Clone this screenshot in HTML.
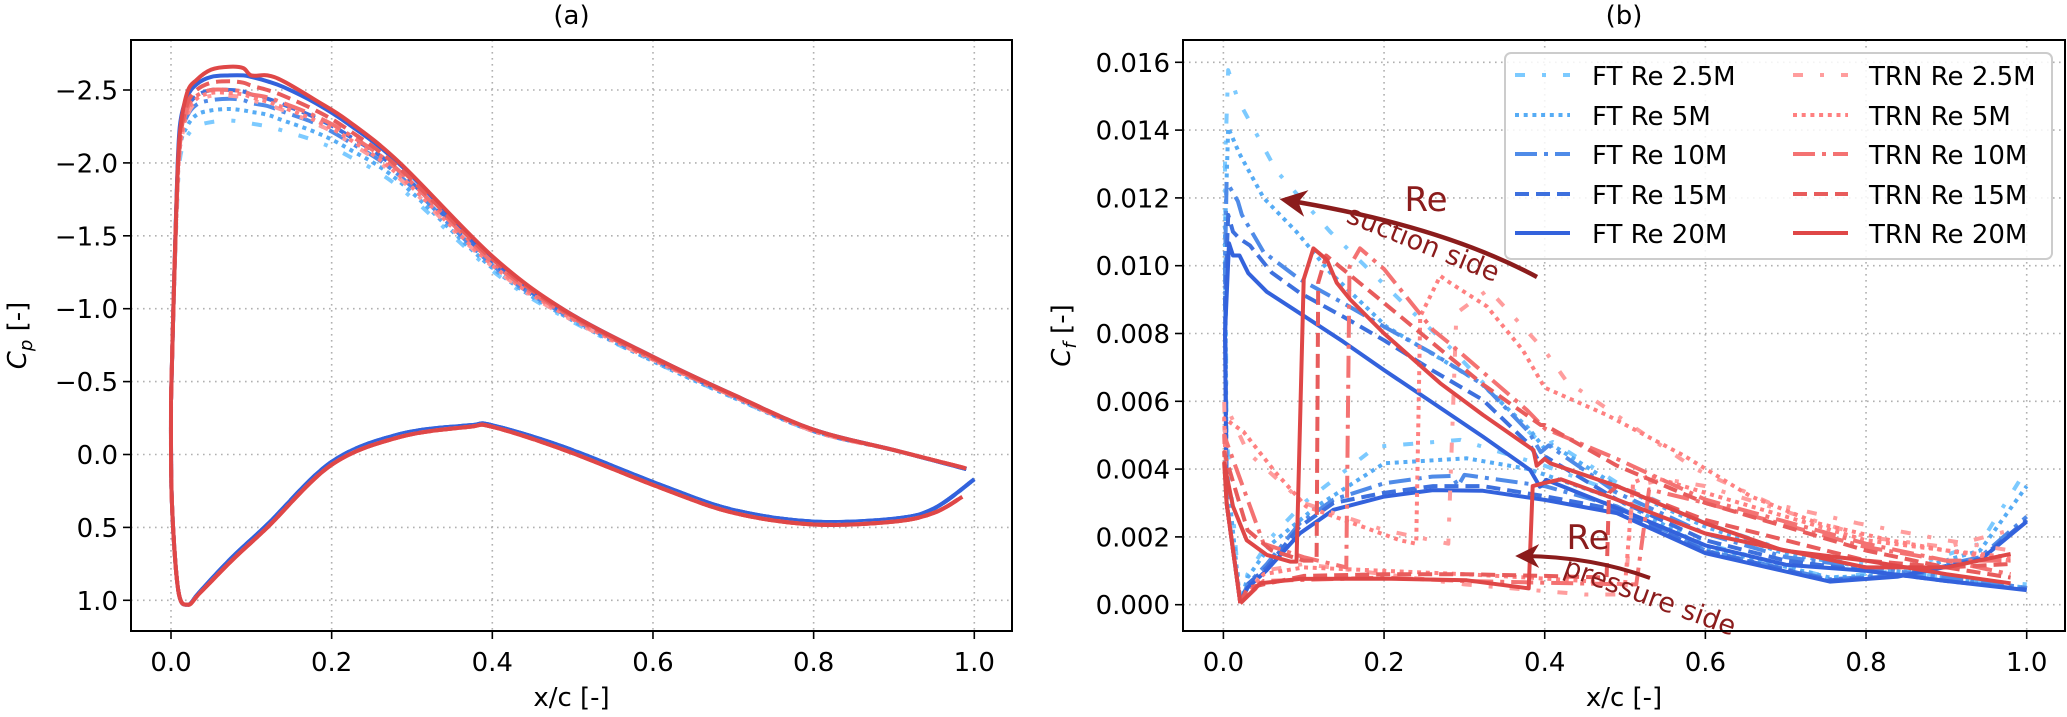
<!DOCTYPE html>
<html><head><meta charset="utf-8"><title>Cp and Cf distributions</title>
<style>
html,body{margin:0;padding:0;background:#fff;}
svg{display:block;font-family:"DejaVu Sans","Liberation Sans",sans-serif;}
</style></head>
<body>
<svg id="fig" width="2067" height="717" viewBox="0 0 2067 717" xmlns="http://www.w3.org/2000/svg">
<defs>
<clipPath id="clipA"><rect x="131" y="40" width="881" height="591"/></clipPath>
<clipPath id="clipB"><rect x="1183" y="40" width="882" height="591"/></clipPath>
<marker id="ah" viewBox="0 0 10 10" refX="8" refY="5" markerWidth="6" markerHeight="6" orient="auto-start-reverse"><path d="M0,0 L10,5 L0,10 L3,5 z" fill="#8b1c1c"/></marker>
</defs>
<g id="panelA"></g>
<g id="panelB"></g>
</svg>
<script>
// ---------- Panel (a): Cp data ----------
const cpUx = [0,0.003,0.007,0.011,0.02,0.032,0.05,0.073,0.09,0.1,0.12,0.14,0.18,0.22,0.285,0.4,0.49,0.6,0.7,0.8,0.9,0.99];
const cpU_FT25 = [-0.37,-1.0,-1.62,-2.02,-2.18,-2.25,-2.28,-2.29,-2.28,-2.27,-2.25,-2.22,-2.15,-2.05,-1.83,-1.26,-0.94,-0.64,-0.39,-0.16,-0.03,0.1];
const cpU_FT5 = [-0.37,-1.0,-1.68,-2.1,-2.25,-2.33,-2.36,-2.37,-2.36,-2.35,-2.33,-2.29,-2.21,-2.1,-1.87,-1.28,-0.95,-0.64,-0.39,-0.16,-0.03,0.1];
const cpU_FT10 = [-0.37,-1.0,-1.72,-2.15,-2.32,-2.4,-2.43,-2.44,-2.43,-2.41,-2.39,-2.35,-2.27,-2.15,-1.91,-1.3,-0.96,-0.65,-0.4,-0.16,-0.03,0.1];
const cpU_FT15 = [-0.37,-1.0,-1.75,-2.2,-2.38,-2.46,-2.5,-2.5,-2.49,-2.47,-2.44,-2.4,-2.31,-2.19,-1.94,-1.32,-0.97,-0.66,-0.4,-0.17,-0.03,0.1];
const cpU_FT20 = [-0.37,-1.0,-1.78,-2.25,-2.45,-2.54,-2.59,-2.6,-2.6,-2.59,-2.56,-2.52,-2.41,-2.27,-1.99,-1.35,-0.99,-0.67,-0.41,-0.17,-0.03,0.1];
const cpU_TRN25 = [-0.37,-1.0,-1.66,-2.08,-2.32,-2.42,-2.46,-2.46,-2.45,-2.43,-2.4,-2.36,-2.27,-2.15,-1.89,-1.29,-0.95,-0.65,-0.4,-0.16,-0.03,0.095];
const cpU_TRN5 = [-0.37,-1.0,-1.68,-2.1,-2.34,-2.44,-2.48,-2.48,-2.47,-2.45,-2.42,-2.38,-2.29,-2.17,-1.91,-1.3,-0.96,-0.65,-0.4,-0.16,-0.03,0.095];
const cpU_TRN10 = [-0.37,-1.0,-1.7,-2.12,-2.37,-2.46,-2.5,-2.5,-2.49,-2.47,-2.45,-2.41,-2.32,-2.2,-1.94,-1.32,-0.97,-0.66,-0.4,-0.17,-0.03,0.095];
const cpU_TRN15 = [-0.37,-1.0,-1.72,-2.15,-2.4,-2.5,-2.55,-2.56,-2.55,-2.53,-2.5,-2.46,-2.36,-2.23,-1.96,-1.34,-0.98,-0.66,-0.41,-0.17,-0.03,0.095];
const cpU_TRN20 = [-0.37,-1.0,-1.75,-2.2,-2.48,-2.57,-2.64,-2.66,-2.65,-2.6,-2.6,-2.56,-2.43,-2.29,-2.0,-1.36,-0.99,-0.67,-0.41,-0.17,-0.03,0.095];
const cpLxTRN = [0.0,0.001,0.009,0.021,0.036,0.077,0.12,0.2,0.285,0.372,0.4,0.49,0.61,0.7,0.8,0.9,0.95,0.985];
const cpL_TRN = [-0.37,0.31,0.93,1.03,0.95,0.72,0.5,0.07,-0.12,-0.19,-0.19,-0.03,0.23,0.4,0.48,0.46,0.4,0.29];
const cpLxFT = [0.0,0.001,0.009,0.021,0.036,0.077,0.12,0.2,0.285,0.372,0.4,0.49,0.61,0.7,0.8,0.9,0.95,1.0];
const cpL_FT = [-0.37,0.31,0.93,1.03,0.94,0.7,0.48,0.05,-0.14,-0.2,-0.2,-0.05,0.21,0.38,0.46,0.44,0.37,0.17];
const cpYTicks = [-2.5,-2.0,-1.5,-1.0,-0.5,0.0,0.5,1.0];
const cpYTickLabels = ["\u22122.5","\u22122.0","\u22121.5","\u22121.0","\u22120.5","0.0","0.5","1.0"];
const xTicks = [0,0.2,0.4,0.6,0.8,1.0];
const xTickLabels = ["0.0","0.2","0.4","0.6","0.8","1.0"];

// ---------- Panel (b): Cf data ----------
const cfYTicks = [0,0.002,0.004,0.006,0.008,0.010,0.012,0.014,0.016];
const cfYTickLabels = ["0.000","0.002","0.004","0.006","0.008","0.010","0.012","0.014","0.016"];
const ft25Sx = [0.021,0.004,0.002,0.006,0.018,0.066,0.133,0.228,0.286,0.38,0.4,0.41,0.49,0.6,0.7,0.8,0.9,1.0];
const ft25Sy = [0.00005,0.005,0.013,0.01577,0.0149,0.0128,0.011,0.0088,0.0075,0.0051,0.0047,0.0048,0.0036,0.0024,0.0016,0.0012,0.0008,0.0006];
const ft25Px = [0.021,0.03,0.06,0.1,0.19,0.295,0.4,0.49,0.6,0.755,0.84,0.942,1.0];
const ft25Py = [0.00004,0.0009,0.002,0.003,0.00466,0.00486,0.0041,0.0033,0.0018,0.0008,0.001,0.0018,0.004];
const ft5Sx = [0.021,0.004,0.002,0.006,0.02,0.05,0.091,0.133,0.203,0.26,0.32,0.38,0.4,0.41,0.49,0.6,0.7,0.8,0.9,1.0];
const ft5Sy = [0.00005,0.004,0.011,0.01407,0.0133,0.012,0.011,0.0098,0.0082,0.0074,0.00654,0.0052,0.0046,0.0047,0.0035,0.0023,0.0015,0.0011,0.0008,0.0005];
const ft5Px = [0.021,0.03,0.06,0.116,0.2,0.303,0.38,0.49,0.6,0.755,0.84,0.942,1.0];
const ft5Py = [0.00004,0.0008,0.0018,0.0029,0.00417,0.00432,0.004,0.0031,0.0017,0.0008,0.0009,0.0016,0.0035];
const ft10Sx = [0.021,0.004,0.002,0.004,0.018,0.023,0.05,0.095,0.149,0.2,0.261,0.323,0.38,0.395,0.405,0.49,0.6,0.7,0.8,0.9,1.0];
const ft10Sy = [0.00005,0.003,0.01,0.01248,0.0119,0.0115,0.0104,0.0096,0.0089,0.0082,0.0074,0.0065,0.0051,0.0045,0.0047,0.0033,0.0021,0.0014,0.0011,0.0008,0.0005];
const ft10Px = [0.021,0.03,0.054,0.095,0.137,0.2,0.26,0.285,0.292,0.3,0.4,0.49,0.6,0.755,0.84,0.942,1.0];
const ft10Py = [0.00004,0.0006,0.0012,0.0024,0.0031,0.00358,0.00378,0.0038,0.0035,0.00383,0.0035,0.0029,0.0016,0.00075,0.00088,0.0014,0.0026];
const ft15Sx = [0.021,0.004,0.002,0.006,0.012,0.02,0.033,0.06,0.095,0.149,0.2,0.261,0.323,0.382,0.394,0.402,0.49,0.6,0.7,0.8,0.9,1.0];
const ft15Sy = [0.00005,0.003,0.009,0.0115,0.011,0.0108,0.0106,0.0098,0.0092,0.0085,0.0078,0.0069,0.00604,0.0047,0.00417,0.00435,0.0031,0.0019,0.0013,0.001,0.0007,0.00045];
const ft15Px = [0.021,0.03,0.054,0.095,0.137,0.2,0.261,0.323,0.4,0.49,0.6,0.755,0.84,0.942,1.0];
const ft15Py = [0.00004,0.0006,0.0011,0.0023,0.003,0.0033,0.0035,0.0035,0.0032,0.0028,0.00158,0.00072,0.00085,0.00135,0.0025];
const ft20Sx = [0.021,0.004,0.002,0.007,0.012,0.02,0.031,0.054,0.095,0.149,0.2,0.261,0.323,0.382,0.394,0.402,0.49,0.6,0.7,0.8,0.9,1.0];
const ft20Sy = [0.00005,0.003,0.008,0.01066,0.0103,0.0103,0.00978,0.00923,0.0086,0.00776,0.00692,0.00595,0.00496,0.00397,0.00348,0.00368,0.00285,0.00175,0.00118,0.001,0.0007,0.00043];
const ft20Px = [0.021,0.03,0.054,0.095,0.137,0.2,0.261,0.323,0.4,0.49,0.6,0.755,0.84,0.942,1.0];
const ft20Py = [0.00004,0.0005,0.00102,0.0021,0.0028,0.00319,0.00338,0.00336,0.00309,0.0027,0.00152,0.00068,0.00083,0.00132,0.00245];
const trn25Sx = [0.021,0.004,0.001,0.03,0.1,0.2,0.28,0.29,0.33,0.4,0.427,0.588,0.68,0.79,0.9,0.98];
const trn25Sy = [0.00005,0.003,0.006,0.0045,0.003,0.0022,0.0018,0.0086,0.0093,0.0075,0.0066,0.004,0.003,0.0024,0.0019,0.0016];
const trn25Px = [0.021,0.05,0.1,0.3,0.45,0.5,0.51,0.55,0.6,0.8,0.9,0.98];
const trn25Py = [0.00004,0.001,0.0012,0.0006,0.0003,0.0003,0.0035,0.0037,0.0035,0.002,0.0017,0.0022];
const trn5Sx = [0.021,0.004,0.001,0.025,0.065,0.103,0.15,0.22,0.24,0.245,0.27,0.282,0.328,0.373,0.4,0.477,0.573,0.656,0.74,0.83,0.9,0.98];
const trn5Sy = [0.00005,0.003,0.0055,0.0051,0.0039,0.0029,0.0025,0.0019,0.0018,0.0085,0.0097,0.0095,0.0088,0.0075,0.0064,0.0056,0.0044,0.0032,0.0024,0.0019,0.0016,0.0013];
const trn5Px = [0.021,0.05,0.1,0.2,0.3,0.38,0.45,0.5,0.51,0.53,0.6,0.8,0.9,0.98];
const trn5Py = [0.00004,0.0009,0.0011,0.001,0.0009,0.0008,0.0007,0.0006,0.0036,0.0038,0.0033,0.0019,0.0016,0.0014];
const trn10Sx = [0.021,0.004,0.001,0.05,0.1,0.153,0.157,0.17,0.2,0.261,0.282,0.378,0.4,0.49,0.6,0.8,0.9,0.98];
const trn10Sy = [0.00005,0.003,0.005,0.0018,0.0014,0.0011,0.00997,0.01051,0.0099,0.0081,0.0077,0.00574,0.0052,0.0043,0.0031,0.0018,0.0013,0.0009];
const trn10Px = [0.021,0.05,0.2,0.3,0.5,0.514,0.53,0.6,0.8,0.9,0.98];
const trn10Py = [0.00004,0.0007,0.0008,0.0007,0.0006,0.0006,0.0034,0.003,0.0017,0.0013,0.0013];
const trn15Sx = [0.021,0.004,0.001,0.03,0.06,0.1,0.116,0.118,0.128,0.2,0.323,0.395,0.4,0.49,0.6,0.8,0.9,0.98];
const trn15Sy = [0.00005,0.003,0.0045,0.0022,0.0016,0.0013,0.0013,0.0095,0.0103,0.0089,0.0065,0.0053,0.0053,0.0041,0.003,0.0016,0.0011,0.0008];
const trn15Px = [0.021,0.03,0.1,0.2,0.3,0.4,0.477,0.48,0.49,0.6,0.8,0.9,0.98];
const trn15Py = [0.00004,0.0005,0.00085,0.0009,0.0009,0.00085,0.0008,0.0033,0.0035,0.0025,0.0013,0.0011,0.0012];
const trn20Sx = [0.021,0.004,0.001,0.012,0.029,0.054,0.083,0.091,0.1,0.112,0.129,0.141,0.158,0.2,0.27,0.323,0.386,0.39,0.4,0.407,0.49,0.6,0.697,0.8,0.9,0.98];
const trn20Sy = [0.00005,0.003,0.00417,0.0029,0.0019,0.00147,0.00127,0.00127,0.0096,0.01051,0.01017,0.0095,0.009,0.008,0.00653,0.0056,0.00456,0.0041,0.0043,0.00417,0.0035,0.0024,0.0016,0.0013,0.0009,0.00063];
const trn20Px = [0.021,0.046,0.095,0.2,0.303,0.38,0.385,0.398,0.42,0.49,0.6,0.8,0.9,0.98];
const trn20Py = [0.00004,0.00063,0.00076,0.00077,0.00072,0.00048,0.0035,0.00358,0.0037,0.0031,0.0021,0.0011,0.0011,0.0015];
const legendLabels = ["FT Re 2.5M","FT Re 5M","FT Re 10M","FT Re 15M","FT Re 20M","TRN Re 2.5M","TRN Re 5M","TRN Re 10M","TRN Re 15M","TRN Re 20M"];

// ---------- styles ----------
const colFT = ["#7ccaff","#56acf5","#4f8be8","#3d70de","#3362dc"];
const colTRN = ["#ff9d9d","#ff8080","#f47272","#e85c5c","#df4747"];
const dashes = ["10 17 4 17","4 4.7","22 7 4 7","14 7",""];
const reKeys = ["2.5","5","10","15","20"];

const NS = "http://www.w3.org/2000/svg";
function mk(tag, attrs, parent){
  const e = document.createElementNS(NS, tag);
  for (const k in attrs) e.setAttribute(k, attrs[k]);
  if (parent) parent.appendChild(e);
  return e;
}
const AX = {x0:131, x1:1012, y0:40, y1:631, xs:(v)=>171+v*803.3, ys:(v)=>454.5+v*145.8};
const BX = {x0:1183, x1:2065, y0:40, y1:631, xs:(v)=>1223.4+v*803.3, ys:(v)=>604.7-v*33900};

function drawAxes(g, ax, yTicks, yLabels, title, ylab, ylabX){
  const grid = mk("g",{},g);
  
  
  xTicks.forEach((t,i)=>{
    const x = ax.xs(t);
    mk("line",{x1:x,x2:x,y1:ax.y0,y2:ax.y1,stroke:"#b0b0b0","stroke-width":1.6,"stroke-dasharray":"1.6 4.4"},grid);
    mk("line",{x1:x,x2:x,y1:ax.y1,y2:ax.y1+8,stroke:"#000","stroke-width":1.6},g);
    const tl = mk("text",{x:x,y:ax.y1+40,"font-size":26,"text-anchor":"middle",fill:"#000"},g);
    
    
    tl.textContent = xTickLabels[i];
  });
  yTicks.forEach((t,i)=>{
    const y = ax.ys(t);
    mk("line",{x1:ax.x0,x2:ax.x1,y1:y,y2:y,stroke:"#b0b0b0","stroke-width":1.6,"stroke-dasharray":"1.6 4.4"},grid);
    mk("line",{x1:ax.x0-8,x2:ax.x0,y1:y,y2:y,stroke:"#000","stroke-width":1.6},g);
    const tl = mk("text",{x:ax.x0-13,y:y+9.5,"font-size":26,"text-anchor":"end",fill:"#000"},g);
    
    
    tl.textContent = yLabels[i];
  });
  const tt = mk("text",{x:(ax.x0+ax.x1)/2,y:24,"font-size":26,"text-anchor":"middle"},g);
  
  
  tt.textContent = title;
  const xl = mk("text",{x:(ax.x0+ax.x1)/2,y:706,"font-size":26,"text-anchor":"middle"},g);
  
  
  xl.textContent = "x/c [-]";
  const yl = mk("text",{x:0,y:0,"font-size":26,"text-anchor":"middle",transform:`translate(${ylabX},${(ax.y0+ax.y1)/2}) rotate(-90)`},g);
  
  
  const t1 = mk("tspan",{"font-style":"italic"},yl); t1.textContent="C";
  const t2 = mk("tspan",{"font-style":"italic","font-size":18,dy:6}, yl); t2.textContent=ylab;
  const t3 = mk("tspan",{dy:-6},yl); t3.textContent=" [-]";
}
function frame(g, ax){
  const r = mk("rect",{x:ax.x0,y:ax.y0,width:ax.x1-ax.x0,height:ax.y1-ax.y0,fill:"none",stroke:"#000","stroke-width":2},g);
  
  
}
function line(g, ax, xs, ys, color, dash, name, smooth){
  const P = xs.map((x,i)=>[ax.xs(x), ax.ys(ys[i])]);
  let d = "M" + P[0][0].toFixed(1) + "," + P[0][1].toFixed(1);
  for (let i=1;i<P.length;i++){
    if (smooth){
      const p0 = P[Math.max(0,i-2)], p1 = P[i-1], p2 = P[i], p3 = P[Math.min(P.length-1,i+1)];
      const c1x = p1[0] + (p2[0]-p0[0])/6, c1y = p1[1] + (p2[1]-p0[1])/6;
      const c2x = p2[0] - (p3[0]-p1[0])/6, c2y = p2[1] - (p3[1]-p1[1])/6;
      d += "C" + c1x.toFixed(1)+","+c1y.toFixed(1)+" "+c2x.toFixed(1)+","+c2y.toFixed(1)+" "+p2[0].toFixed(1)+","+p2[1].toFixed(1);
    } else {
      d += "L" + P[i][0].toFixed(1) + "," + P[i][1].toFixed(1);
    }
  }
  const p = mk("path",{d:d,fill:"none",stroke:color,"stroke-width":4,"stroke-linejoin":"round","stroke-dasharray":dash||"none"},g);
  
  
  return p;
}

// ---- Panel A ----
const gA = document.getElementById("panelA");
drawAxes(gA, AX, cpYTicks, cpYTickLabels, "(a)", "p", 26);
const plotA = mk("g",{"clip-path":"url(#clipA)"},gA);
const cpUpperFT = [cpU_FT25,cpU_FT5,cpU_FT10,cpU_FT15,cpU_FT20];
const cpUpperTRN = [cpU_TRN25,cpU_TRN5,cpU_TRN10,cpU_TRN15,cpU_TRN20];
for (let i=0;i<5;i++){
  line(plotA, AX, cpUx, cpUpperFT[i], colFT[i], dashes[i], "cp-suction-ft-re-"+reKeys[i], true);
  line(plotA, AX, cpLxFT, cpL_FT, colFT[i], dashes[i], "cp-pressure-ft-re-"+reKeys[i], true);
}
for (let i=0;i<5;i++){
  line(plotA, AX, cpUx, cpUpperTRN[i], colTRN[i], dashes[i], "cp-suction-trn-re-"+reKeys[i], true);
  line(plotA, AX, cpLxTRN, cpL_TRN, colTRN[i], dashes[i], "cp-pressure-trn-re-"+reKeys[i], true);
}
frame(gA, AX);

// ---- Panel B ----
const gB = document.getElementById("panelB");
drawAxes(gB, BX, cfYTicks, cfYTickLabels, "(b)", "f", 1070);
const plotB = mk("g",{"clip-path":"url(#clipB)"},gB);
const ftS = [[ft25Sx,ft25Sy],[ft5Sx,ft5Sy],[ft10Sx,ft10Sy],[ft15Sx,ft15Sy],[ft20Sx,ft20Sy]];
const ftP = [[ft25Px,ft25Py],[ft5Px,ft5Py],[ft10Px,ft10Py],[ft15Px,ft15Py],[ft20Px,ft20Py]];
const trS = [[trn25Sx,trn25Sy],[trn5Sx,trn5Sy],[trn10Sx,trn10Sy],[trn15Sx,trn15Sy],[trn20Sx,trn20Sy]];
const trP = [[trn25Px,trn25Py],[trn5Px,trn5Py],[trn10Px,trn10Py],[trn15Px,trn15Py],[trn20Px,trn20Py]];
for (let i=0;i<5;i++){
  line(plotB, BX, ftS[i][0], ftS[i][1], colFT[i], dashes[i], "cf-suction-ft-re-"+reKeys[i], false);
  line(plotB, BX, ftP[i][0], ftP[i][1], colFT[i], dashes[i], "cf-pressure-ft-re-"+reKeys[i], false);
}
for (let i=0;i<5;i++){
  line(plotB, BX, trS[i][0], trS[i][1], colTRN[i], dashes[i], "cf-suction-trn-re-"+reKeys[i], false);
  line(plotB, BX, trP[i][0], trP[i][1], colTRN[i], dashes[i], "cf-pressure-trn-re-"+reKeys[i], false);
}
// annotations
const ann = mk("g",{},gB);


const a1 = mk("path",{d:"M1537,277 Q1440,225 1285,200",fill:"none",stroke:"#8b1c1c","stroke-width":4.5,"marker-end":"url(#ah)"},ann);


const a2 = mk("path",{d:"M1650,578 Q1590,556 1520,556",fill:"none",stroke:"#8b1c1c","stroke-width":4,"marker-end":"url(#ah)"},ann);


function annText(txt, x, y, size, rot, name){
  const t = mk("text",{x:0,y:0,"font-size":size,fill:"#8b1c1c","text-anchor":"middle",transform:`translate(${x},${y}) rotate(${rot})`},ann);
  
  
  t.textContent = txt;
}
annText("Re", 1426, 211, 34, 0, "suction-re-label");
annText("suction side", 1420, 252, 27, 22, "suction-side-label");
annText("Re", 1588, 549, 34, 0, "pressure-re-label");
annText("pressure side", 1647, 605, 27, 20, "pressure-side-label");

// legend
const lg = mk("g",{},gB);


mk("rect",{x:1505,y:53,width:547,height:206,rx:6,fill:"#fff","fill-opacity":0.85,stroke:"#cccccc","stroke-width":2},lg);
const rowY = [75,115,154,194,233];
for (let c=0;c<2;c++){
  for (let r=0;r<5;r++){
    const hx = c===0 ? 1515 : 1793;
    const tx = c===0 ? 1592 : 1869;
    const col = c===0 ? colFT[r] : colTRN[r];
    const ent = mk("g",{},lg);
    
    
    mk("line",{x1:hx,x2:hx+55,y1:rowY[r],y2:rowY[r],stroke:col,"stroke-width":4,"stroke-dasharray":dashes[r]||"none"},ent);
    const t = mk("text",{x:tx,y:rowY[r]+10,"font-size":26,fill:"#000"},ent);
    t.textContent = legendLabels[c*5+r];
  }
}
frame(gB, BX);
</script>
</body></html>
